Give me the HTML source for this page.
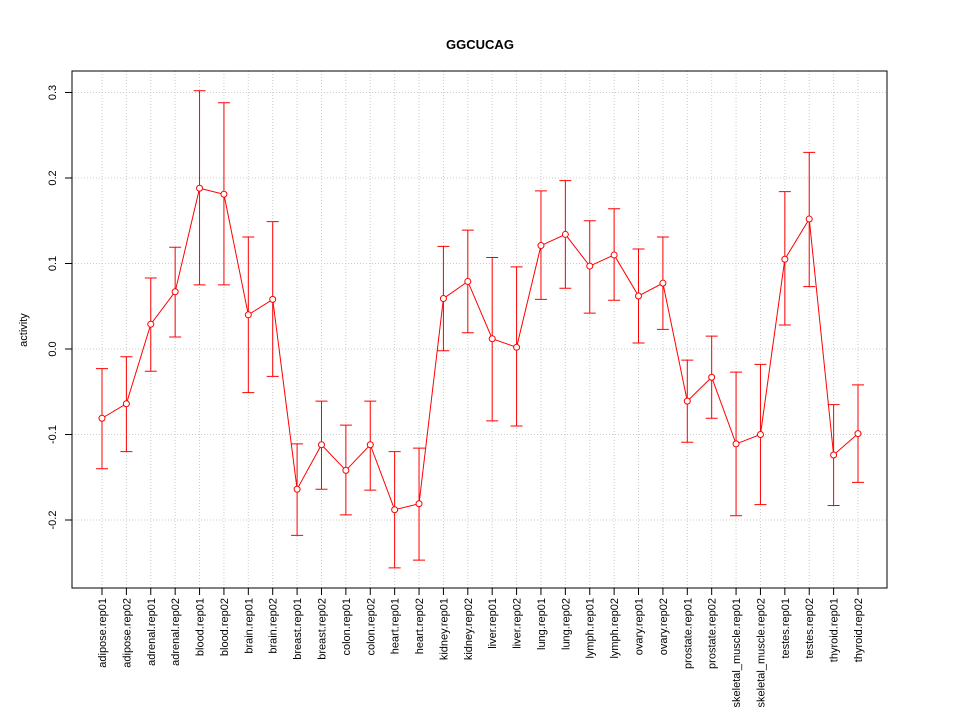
<!DOCTYPE html>
<html><head><meta charset="utf-8"><style>
body{margin:0;background:#fff}
svg text{font-family:"Liberation Sans",sans-serif;fill:#000}
</style></head><body>
<svg id="chart" width="960" height="720">
<text x="480" y="49" text-anchor="middle" font-weight="bold" font-size="13">GGCUCAG</text>
<text transform="translate(27,330) rotate(-90)" text-anchor="middle" font-size="11">activity</text>
<g id="grid"></g><g id="axes"></g><g id="marks"></g>
<rect x="72" y="71" width="815" height="517" fill="none" stroke="#000"/>
</svg>
<script>
const categories=["adipose.rep01","adipose.rep02","adrenal.rep01","adrenal.rep02","blood.rep01","blood.rep02","brain.rep01","brain.rep02","breast.rep01","breast.rep02","colon.rep01","colon.rep02","heart.rep01","heart.rep02","kidney.rep01","kidney.rep02","liver.rep01","liver.rep02","lung.rep01","lung.rep02","lymph.rep01","lymph.rep02","ovary.rep01","ovary.rep02","prostate.rep01","prostate.rep02","skeletal_muscle.rep01","skeletal_muscle.rep02","testes.rep01","testes.rep02","thyroid.rep01","thyroid.rep02"];
const values=[-0.081,-0.064,0.029,0.067,0.188,0.181,0.040,0.058,-0.164,-0.112,-0.142,-0.112,-0.188,-0.181,0.059,0.079,0.012,0.002,0.121,0.134,0.097,0.110,0.062,0.077,-0.061,-0.033,-0.111,-0.100,0.105,0.152,-0.124,-0.099];
const upper=[-0.023,-0.009,0.083,0.119,0.302,0.288,0.131,0.149,-0.111,-0.061,-0.089,-0.061,-0.120,-0.116,0.120,0.139,0.107,0.096,0.185,0.197,0.150,0.164,0.117,0.131,-0.013,0.015,-0.027,-0.018,0.184,0.230,-0.065,-0.042];
const lower=[-0.140,-0.120,-0.026,0.014,0.075,0.075,-0.051,-0.032,-0.218,-0.164,-0.194,-0.165,-0.256,-0.247,-0.002,0.019,-0.084,-0.090,0.058,0.071,0.042,0.057,0.007,0.023,-0.109,-0.081,-0.195,-0.182,0.028,0.073,-0.183,-0.156];
const yTicks=[-0.2,-0.1,0.0,0.1,0.2,0.3];
const yLabels=["-0.2","-0.1","0.0","0.1","0.2","0.3"];
const NS="http://www.w3.org/2000/svg";
const xS=i=>102+i*(858-102)/(categories.length-1);
const yS=v=>349-v*855;
function mk(parent,tag,attrs){const e=document.createElementNS(NS,tag);for(const k in attrs)e.setAttribute(k,attrs[k]);document.getElementById(parent).appendChild(e);return e;}
yTicks.forEach((t,i)=>{
 const g=mk("grid","line",{x1:72,x2:887,y1:yS(t),y2:yS(t),stroke:"#ccc","stroke-dasharray":"1,2"});
 
 
 const tk=mk("axes","line",{x1:65,x2:72,y1:yS(t),y2:yS(t),stroke:"#000"});
 
 
 const tx=mk("axes","text",{transform:`translate(56,${yS(t)}) rotate(-90)`,"text-anchor":"middle","font-size":"11"});
 tx.textContent=yLabels[i];
 
 
});
categories.forEach((c,i)=>{
 const x=xS(i);
 const g=mk("grid","line",{x1:x,x2:x,y1:71,y2:588,stroke:"#ccc","stroke-dasharray":"1,2"});
 
 
 const tk=mk("axes","line",{x1:x,x2:x,y1:588,y2:595,stroke:"#000"});
 
 
 const tx=mk("axes","text",{transform:`translate(${x+4},598) rotate(-90)`,"text-anchor":"end","font-size":"11"});
 tx.textContent=c;
 
 
});
const pts=values.map((v,i)=>xS(i)+","+yS(v)).join(" ");
const ln=mk("marks","polyline",{points:pts,fill:"none",stroke:"#f00"});


values.forEach((v,i)=>{
 const x=xS(i);
 const eb=mk("marks","path",{d:`M${x},${yS(upper[i])}V${yS(lower[i])}M${x-6},${yS(upper[i])}H${x+6}M${x-6},${yS(lower[i])}H${x+6}`,stroke:"#f00",fill:"none"});
 
 
 const p=mk("marks","circle",{cx:x,cy:yS(v),r:3,fill:"#fff",stroke:"#f00"});
 
 
});
</script>
</body></html>
